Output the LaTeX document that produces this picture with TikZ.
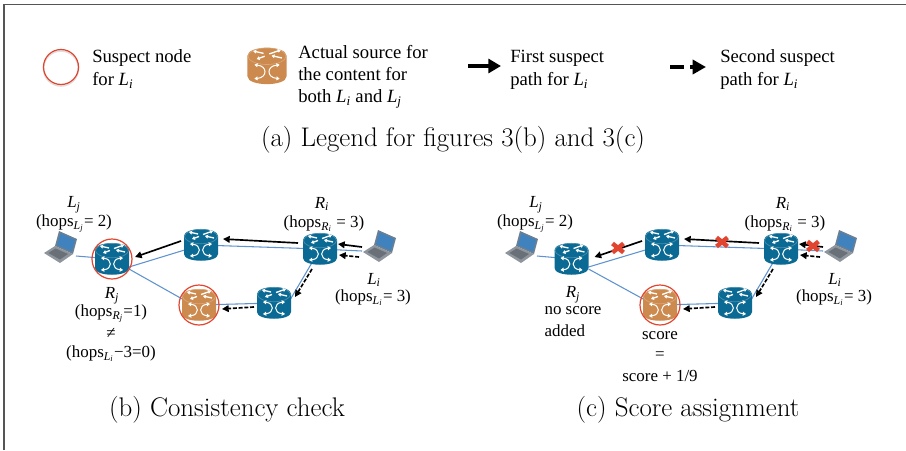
\documentclass[tikz,border=0pt]{standalone}
\usepackage{amsmath}
\usepackage{fontspec}
\usetikzlibrary{arrows.meta,calc}
\newfontfamily\tnr{Liberation Serif}
\definecolor{routerblue}{HTML}{0B6A94}
\definecolor{routerorange}{HTML}{CC8A4E}
\definecolor{linkblue}{HTML}{5F93CF}
\definecolor{ringred}{HTML}{E2452F}
\definecolor{framegray}{HTML}{555555}
\definecolor{lapframe}{HTML}{6A7F94}
\definecolor{lapscreen}{HTML}{3F82BE}
\definecolor{lapbase}{HTML}{8E959C}
\definecolor{lapkeys}{HTML}{6A7078}
\newcommand{\LL}[1]{$\textit{L}_{\textit{#1}}$}
\newcommand{\RR}[1]{$\textit{R}_{\textit{#1}}$}
\newcommand{\hopsL}[1]{hops$_{\textit{L}_{\textit{#1}}}$}
\newcommand{\hopsR}[1]{hops$_{\textit{R}_{\textit{#1}}}$}
\tikzset{
  lbl/.style={font=\tnr\fontsize{12.7}{14}\selectfont,inner sep=0pt,align=center,yshift=-1.3pt},
  leg/.style={font=\tnr\fontsize{14}{17.25}\selectfont,inner sep=0pt,align=left,anchor=north west,yshift=-1.5pt},
  captext/.style={font=\fontsize{20.2}{23}\selectfont,inner sep=0pt,yshift=-2pt},
  link/.style={draw=linkblue,line width=0.8pt},
  firstpath/.style={draw=black,line width=1.25pt,-{Triangle[length=5pt,width=5pt]}},
  secondpath/.style={draw=black,line width=1.25pt,dash pattern=on 3pt off 1.3pt,-{Triangle[length=5pt,width=5pt]}},
  ring/.style={draw=ringred,line width=0.9pt},
  redx/.style={draw=ringred,line width=3.3pt},
  pics/router/.style={code={
    \fill[#1] (-17,-9) -- (-17,9) .. controls (-17,18) and (17,18) .. (17,9) -- (17,-9)
      .. controls (17,-18) and (-17,-18) .. (-17,-9) -- cycle;
    \draw[#1!75!white,line width=0.5pt] (0,-8.5) ellipse [x radius=16.5,y radius=7.2];
    \begin{scope}[white,line width=1pt,-{Triangle[length=2.2pt,width=2.8pt]}]
      \draw (-3,-11) -- (-12,-13);
      \draw (2,-10.5) -- (12,-14);
      \draw (-2,-8.5) -- (-9,-6);
      \draw (13,-7) -- (4,-9);
    \end{scope}
    \begin{scope}[white,line width=0.75pt,{Triangle[length=2.4pt,width=3pt]}-{Triangle[length=2.4pt,width=3pt]}]
      \draw (-11,-1) .. controls (0.5,0) and (0.5,10) .. (-11,11);
      \draw (11,-1) .. controls (-0.5,0) and (-0.5,10) .. (11,11);
    \end{scope}
  }},
  pics/laptop/.style={code={
    \fill[lapframe] (-2,-16) -- (16,-8) -- (12,7) -- (-6,-1) -- cycle;
    \fill[lapscreen] (-0.5,-13.5) -- (14,-7) -- (10.8,4.5) -- (-4,-2) -- cycle;
    \fill[lapbase] (-6,-1) -- (12,7) -- (-1,16) -- (-17,6) -- cycle;
    \fill[lapkeys] (-5.5,1.5) -- (7,7) -- (-1,12.5) -- (-12.5,6) -- cycle;
  }},
}
% #1 prefix, #2 x of R_j
\newcommand{\network}[2]{
  \coordinate (#1Lj) at (61,247);
  \coordinate (#1Rj) at (#2,259);
  \coordinate (#1Rt) at (201,245);
  \coordinate (#1Src) at (199,305);
  \coordinate (#1Ri) at (320,249);
  \coordinate (#1Rb) at (274,303);
  \coordinate (#1Li) at (380,246);
  \draw[link] ($(#1Lj)+(15,9)$) -- (#1Rj);
  \draw[link] ($(#1Rj)+(17,8)$) -- (#1Rt);
  \draw[link] ($(#1Rj)+(17,10)$) -- ($(#1Src)+(-15,-5)$);
  \draw[link] (#1Rt) -- (#1Ri);
  \draw[link] (#1Src) -- (#1Rb);
  \draw[link] (#1Ri) -- ($(#1Rb)+(16,-3)$);
  \draw[link] (#1Ri) -- ($(#1Li)+(-18,5)$);
  \pic at (#1Lj) {laptop};
  \pic at (#1Li) {laptop};
  \pic at (#1Rj) {router=routerblue};
  \pic at (#1Rt) {router=routerblue};
  \pic at (#1Ri) {router=routerblue};
  \pic at (#1Rb) {router=routerblue};
  \pic at (#1Src) {router=routerorange};
  \draw[ring] (#1Src) circle [radius=20];
  \draw[firstpath] ($(#1Rt)+(-20,-4)$) -- ($(#1Rj)+(23,-2)$);
  \draw[firstpath] ($(#1Ri)+(-22,-6)$) -- ($(#1Rt)+(22,-6)$);
  \draw[firstpath] ($(#1Li)+(-18,1)$) -- ($(#1Ri)+(18,-5)$);
  \draw[secondpath] ($(#1Li)+(-21,11)$) -- ($(#1Ri)+(19,6)$);
  \draw[secondpath] ($(#1Ri)+(-8,20)$) -- ($(#1Rb)+(21,-6)$);
  \draw[secondpath] ($(#1Rb)+(-20,4)$) -- ($(#1Src)+(23,4)$);
}
\begin{document}
\begin{tikzpicture}[x=0.75pt,y=-0.75pt]
\useasboundingbox (0,0) rectangle (906,450);
\coordinate (frameBL) at (4,450);
\coordinate (frameTL) at (4,4.5);
\coordinate (frameTR) at (906,4.5);
\draw[framegray,line width=0.9pt] (frameBL) -- (frameTL) -- (frameTR);

% legend
\coordinate (legRing) at (61,67);
\draw[gray!25,line width=1.2pt] (61,68.5) circle [radius=17.5];
\draw[ring] (legRing) circle [radius=17.5];
\node[leg] (t1) at (92,47.5) {Suspect node\\for \LL{i}};
\coordinate (legSrc) at (267,66);
\pic[scale=1.15] at (legSrc) {router=routerorange};
\node[leg,font=\tnr\fontsize{14}{16.5}\selectfont] (t2) at (298,43.5) {Actual source for\\the content for\\both \LL{i} and \LL{j}};
\coordinate (a1s) at (468,66);
\coordinate (a1e) at (501,66);
\draw[line width=3pt,-{Triangle[length=9.5pt,width=10.5pt]}] (a1s) -- (a1e);
\node[leg] (t3) at (510,47.5) {First suspect\\path for \LL{i}};
\coordinate (a2s) at (670,67);
\coordinate (a2m) at (684,67);
\coordinate (a2h) at (690,67);
\coordinate (a2e) at (706,67);
\draw[line width=3pt] (a2s) -- (a2m);
\draw[line width=3pt,-{Triangle[length=10pt,width=10.5pt]}] (a2h) -- (a2e);
\node[leg] (t4) at (720,47.5) {Second suspect\\path for \LL{i}};
\node[captext] (capa) at (453,137) {(a) Legend for figures 3(b) and 3(c)};

% panel b
\network{b}{112}
\draw[ring] (bRj) circle [radius=20];
\node[lbl] (bLjn) at (74,203) {\LL{j}};
\node[lbl] (bLjh) at (74,222) {(\hopsL{j}= 2)};
\node[lbl] (bRjn) at (112,294) {\RR{j}};
\node[lbl] (bRjh) at (111,312) {(\hopsR{j}=1)};
\node[lbl] (bNe) at (111,332) {≠};
\node[lbl] (bLih) at (111,352) {(\hopsL{i}−3=0)};
\node[lbl] (bRin) at (322,202) {\RR{i}};
\node[lbl] (bRih) at (324,222) {(\hopsR{i} = 3)};
\node[lbl] (bLin) at (374,278) {\LL{i}};
\node[lbl] (bLil) at (373,296) {(\hopsL{i}= 3)};
\node[captext] (capb) at (227,407) {(b) Consistency check};

% panel c
\begin{scope}[shift={(461,0)}]
\network{c}{110.5}
\coordinate (x1) at (157,248);
\coordinate (x2) at (261,242);
\coordinate (x3) at (352,246);
\foreach \c in {x1,x2,x3}{
  \draw[redx] ($(\c)+(-5.5,-4.5)$) -- ($(\c)+(5.5,4.5)$);
  \draw[redx] ($(\c)+(-5.5,4.5)$) -- ($(\c)+(5.5,-4.5)$);
}
\end{scope}
\node[lbl] (cLjn) at (536,203) {\LL{j}};
\node[lbl] (cLjh) at (535,222) {(\hopsL{j}= 2)};
\node[lbl] (cRjn) at (573,293) {\RR{j}};
\node[lbl,align=left] (cRjt) at (573,319.5) {no score\\[2.5pt]added};
\node[lbl] (cs1) at (660,334) {score};
\node[lbl] (cs2) at (660,354) {=};
\node[lbl] (cs3) at (660,374) {score + 1/9};
\node[lbl] (cRin) at (783,202) {\RR{i}};
\node[lbl] (cRih) at (785,222) {(\hopsR{i} = 3)};
\node[lbl] (cLin) at (835,278) {\LL{i}};
\node[lbl] (cLil) at (834,296) {(\hopsL{i}= 3)};
\node[captext] (capc) at (688,407) {(c) Score assignment};
\end{tikzpicture}
\end{document}
